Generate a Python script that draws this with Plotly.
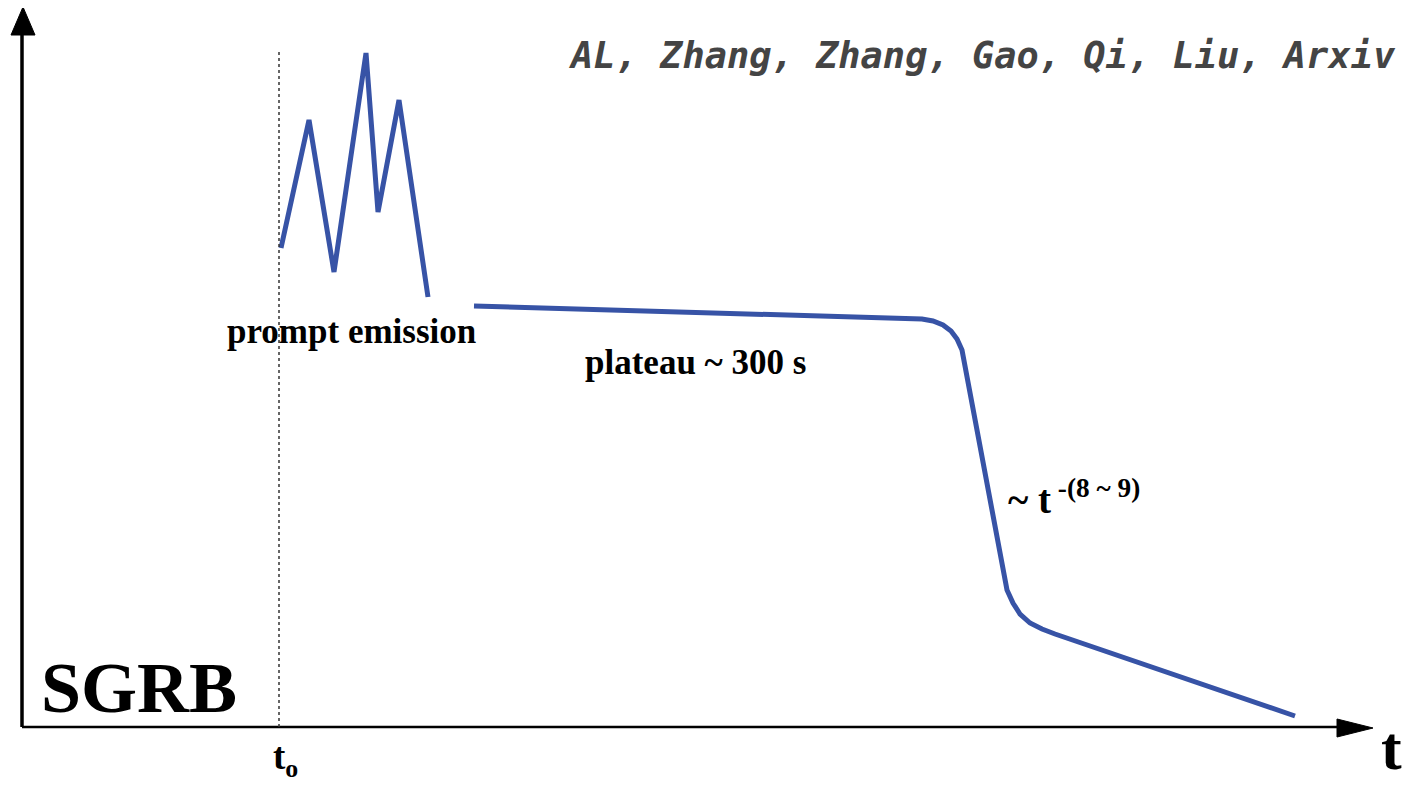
import plotly.graph_objects as go

H = 793  # vertical extent used for the schematic's flux scale
PAD = 8  # browser default body margin, compensated so coordinates match the window

# Prompt emission spikes (time, flux) - schematic units
prompt_t = [281, 309, 334, 366, 378, 399, 428]
prompt_flux = [545, 673, 521, 740, 581, 693, 496]

# Afterglow: plateau, steep decay ~t^-(8~9), then normal decay
after_t = [474, 922, 933, 943, 951, 957, 962, 1001, 1003, 1007, 1013, 1020, 1030, 1042, 1055, 1295]
after_flux = [487, 474, 472, 468, 462, 454, 443, 233, 218, 203, 190, 179, 170, 164, 159, 77]

t0 = 279
blue = "#3753a6"

fig = go.Figure()
fig.add_trace(go.Scatter(x=prompt_t, y=prompt_flux, mode="lines",
                         line=dict(color=blue, width=5), hoverinfo="skip"))
fig.add_trace(go.Scatter(x=after_t, y=after_flux, mode="lines",
                         line=dict(color=blue, width=5), hoverinfo="skip"))

shapes = [
    # y axis
    dict(type="line", x0=22, y0=66, x1=22, y1=762, line=dict(color="black", width=3.5)),
    dict(type="path", path="M 11,758 L 23,786 L 35,758 Z", fillcolor="black", line=dict(color="black", width=1)),
    # x axis
    dict(type="line", x0=22, y0=66, x1=1340, y1=66, line=dict(color="black", width=2.5)),
    dict(type="path", path="M 1337,74 L 1373,65 L 1337,56 Z", fillcolor="black", line=dict(color="black", width=1)),
    # t0 dotted line
    dict(type="line", x0=t0, y0=66, x1=t0, y1=743, line=dict(color="#333333", width=1.5, dash="dot")),
]

serif = "Liberation Serif"
annotations = [
    dict(x=1398, y=738, text="<i>AL, Zhang, Zhang, Gao, Qi, Liu, Arxiv</i>", xanchor="right", yanchor="middle",
         font=dict(family="DejaVu Sans Mono", size=37, color="#444444", weight="bold")),
    dict(x=351, y=462, text="prompt emission", xanchor="center", yanchor="middle",
         font=dict(family=serif, size=35, color="black", weight="bold")),
    dict(x=695, y=431, text="plateau ~ 300 s", xanchor="center", yanchor="middle",
         font=dict(family=serif, size=35, color="black", weight="bold")),
    dict(x=1006, y=296, text="~ t<sup> -(8 ~ 9)</sup>", xanchor="left", yanchor="middle",
         font=dict(family=serif, size=39, color="black", weight="bold")),
    dict(x=139, y=105, text="SGRB", xanchor="center", yanchor="middle",
         font=dict(family=serif, size=72, color="black", weight="bold")),
    dict(x=285, y=34, text="t<sub>o</sub>", xanchor="center", yanchor="middle",
         font=dict(family=serif, size=37, color="black", weight="bold")),
    dict(x=1391, y=9, text="t", xanchor="center", yanchor="bottom",
         font=dict(family=serif, size=62, color="black", weight="bold")),
]
for a in annotations:
    a.update(xref="x", yref="y", showarrow=False)

fig.update_layout(
    width=1410 - 2 * PAD, height=H - 2 * PAD,
    margin=dict(l=0, r=0, t=0, b=0),
    paper_bgcolor="white", plot_bgcolor="white",
    showlegend=False,
    xaxis=dict(range=[PAD, 1410 - PAD], visible=False, fixedrange=True),
    yaxis=dict(range=[PAD, H - PAD], visible=False, fixedrange=True),
    shapes=shapes, annotations=annotations,
)
fig.write_html("out.html")
